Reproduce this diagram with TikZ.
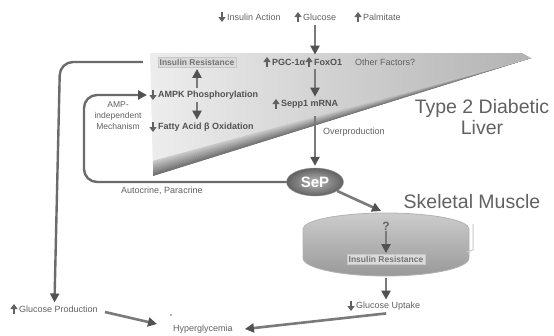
\documentclass[tikz,border=0pt]{standalone}
\usepackage{fontspec}
\setmainfont{Liberation Sans}
\usetikzlibrary{arrows.meta,shapes.geometric}
\newcommand\upmk[1]{\draw[tickarr] ([shift={(-5,5)}]#1.west) -- ([shift={(-5,-5)}]#1.west);}
\newcommand\dnmk[1]{\draw[tickarr] ([shift={(-5,-5)}]#1.west) -- ([shift={(-5,5)}]#1.west);}
\begin{document}
\begin{tikzpicture}[x=1pt,y=-1pt,
  lbl/.style={font=\fontsize{9}{10}\selectfont, text=black!62, inner sep=0pt, anchor=west},
  blbl/.style={font=\fontsize{9}{10}\selectfont\bfseries, text=black!68, inner sep=0pt, anchor=west},
  big/.style={font=\fontsize{19.5}{21}\selectfont, text=black!62, inner sep=0pt},
  flow/.style={draw=black!52, line width=2.6pt, -{Triangle[length=9pt,width=9pt,color=black!68]}},
  loopar/.style={draw=black!58, line width=2.4pt, rounded corners=13pt, -{Triangle[length=9pt,width=9pt,color=black!68]}},
  tickarr/.style={draw=black!62, line width=1.8pt, -{Triangle[length=5pt,width=7pt]}},
  irstyle/.style={draw=black!22, fill=black!14, inner sep=1.6pt, font=\fontsize{8.5}{9}\selectfont\bfseries, text=black!55}
]
\useasboundingbox (0,0) rectangle (554,335);

% liver wedge
\shade[left color=black!7, right color=black!30] (150,53) -- (522,53) -- (531,58) -- (153,176) -- cycle;
\foreach \k in {0,...,23}{
  \pgfmathsetmacro\cc{58-1.6*\k}
  \fill[black!\cc] (153,{176-0.62*\k}) -- (531,58) -- (153,{176-0.62*(\k+1)-0.3}) -- cycle;
}

% skeletal muscle disk
\shade[top color=black!20, bottom color=black!40, draw=black!30, line width=0.8pt]
  (303,229) arc[start angle=180, end angle=360, x radius=83, y radius=16]
  -- (469,258) arc[start angle=0, end angle=180, x radius=83, y radius=18] -- cycle;
\draw[black!22, line width=1pt] (473,224) -- (473,250) -- (466,252);
\coordinate (musctop) at (381,211);

% top row
\node[lbl] (ia) at (227,17) {Insulin Action};
\node[lbl] (glu) at (303,17) {Glucose};
\node[lbl] (pal) at (363,17) {Palmitate};
\dnmk{ia} \upmk{glu} \upmk{pal}

% liver contents
\node[irstyle] (irbox) at (197,62) {Insulin Resistance};
\node[blbl] (pgc) at (272,62) {PGC-1α};
\node[blbl] (fox) at (314,62) {FoxO1};
\node[lbl] (oth) at (355,62) {Other Factors?};
\upmk{pgc} \upmk{fox}
\node[blbl] (ampk) at (158,95) {AMPK Phosphorylation};
\node[blbl] (fat) at (158,127) {Fatty Acid β Oxidation};
\node[blbl] (sepp) at (281,104) {Sepp1 mRNA};
\dnmk{ampk} \dnmk{fat} \upmk{sepp}
\node[font=\fontsize{8.5}{11}\selectfont, text=black!62, align=center, inner sep=0pt] (ampind) at (118,116) {AMP-\\independent\\Mechanism};

\node[big] (t2d) at (482,108) {Type 2 Diabetic};
\node[big] (liv) at (482,128) {Liver};
\node[lbl] (over) at (323,132) {Overproduction};

% SeP
\node[ellipse, minimum width=57pt, minimum height=28pt, inner color=black!28, outer color=black!62,
      draw=black!40, font=\fontsize{15}{15}\selectfont\bfseries, text=white, inner sep=0pt] (sep) at (315,182) {SeP};
\node[lbl, anchor=center] (auto) at (162,191) {Autocrine, Paracrine};

% muscle contents
\node[big] (skm) at (472,202) {Skeletal Muscle};
\node[font=\fontsize{12}{12}\selectfont\bfseries, text=black!60, inner sep=0pt] (qm) at (386,226) {?};
\node[irstyle] (irm) at (386,259) {Insulin Resistance};

% bottom
\node[lbl] (gprod) at (19,309) {Glucose Production};
\node[lbl] (gup) at (356,306) {Glucose Uptake};
\node[lbl] (hyp) at (173,329) {Hyperglycemia};
\upmk{gprod} \dnmk{gup}
\fill[black!60] (171,315) circle (0.8pt);

% connectors
\draw[flow] ([yshift=-4pt]glu.south -| sep.north) -- ([yshift=4pt]fox.north -| sep.north);
\draw[flow] ([yshift=-4pt]fox.south -| sep.north) -- ([yshift=3pt]sepp.north -| sep.north);
\draw[flow] ([yshift=-8pt]sepp.south -| sep.north) -- ([yshift=2pt]sep.north);
\draw[flow] ([yshift=3pt]ampk.north -| irbox.south) -- ([yshift=-2pt]irbox.south);
\draw[flow] ([yshift=-3pt]ampk.south -| irbox.south) -- ([yshift=3pt]fat.north -| irbox.south);
\draw[flow] (sep.-22) -- (musctop);
\draw[flow] ([yshift=-1pt]qm.south) -- ([yshift=1pt]irm.north);
\draw[flow] ([yshift=-14pt]irm.south) -- ([yshift=2pt]gup.north -| irm.south);
\draw[flow] ([shift={(-2,3)}]gup.south) -- ([xshift=12pt]hyp.east);
\draw[flow] ([shift={(7,3)}]gprod.east) -- ([shift={(-16,-5)}]hyp.west);

\coordinate (bigc) at (60,62);
\draw[loopar] ([xshift=-15pt]irbox.west) -- (bigc) -- ([shift={(-4,-3)}]gprod.north);
\coordinate (innc) at (84,95);
\draw[loopar] (sep.west) -| (innc) -- ([xshift=-11pt]ampk.west);
\end{tikzpicture}
\end{document}
